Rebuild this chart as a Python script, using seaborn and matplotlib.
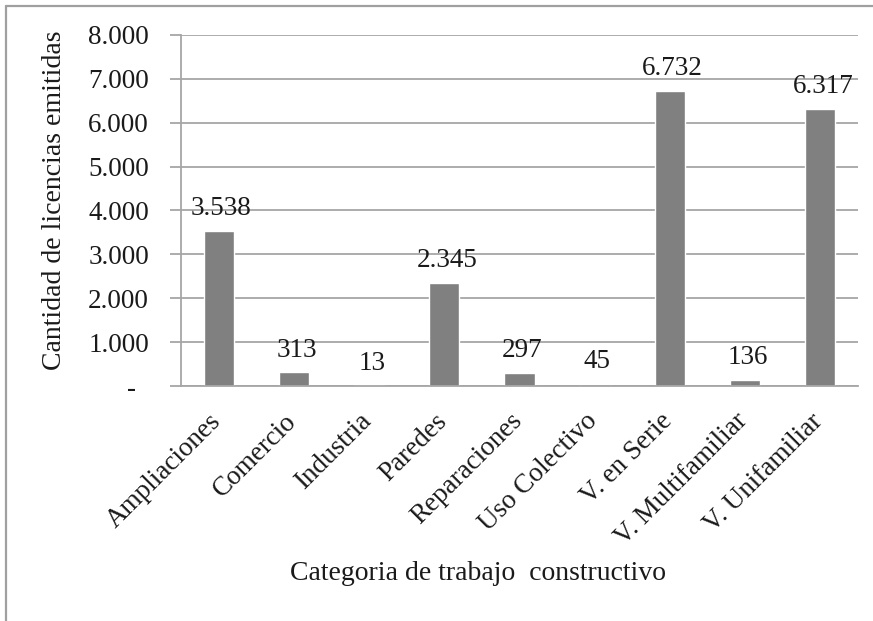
import matplotlib
matplotlib.use("Agg")
import matplotlib.pyplot as plt
from matplotlib.lines import Line2D
from matplotlib.transforms import ScaledTranslation
import seaborn as sns
import pandas as pd

categorias = ["Ampliaciones", "Comercio", "Industria", "Paredes", "Reparaciones",
              "Uso Colectivo", "V. en Serie", "V. Multifamiliar", "V. Unifamiliar"]
licencias = [3538, 313, 13, 2345, 297, 45, 6732, 136, 6317]
yticks = [0, 1000, 2000, 3000, 4000, 5000, 6000, 7000, 8000]

df = pd.DataFrame({"categoria": categorias, "licencias": licencias})

sns.set_theme(style="white")
plt.rcParams["font.family"] = ["Liberation Serif", "DejaVu Serif"]

W, H = 873, 621
fig = plt.figure(figsize=(W / 100, H / 100), dpi=100)
fig.patch.set_facecolor("white")

def fx(px):
    return px / W

def fy(py):
    return 1 - py / H

ax = fig.add_axes([fx(181), fy(386), fx(858) - fx(181), fy(35) - fy(386)])
sns.barplot(data=df, x="categoria", y="licencias", color="#808080",
            width=0.4, saturation=1, ax=ax)

grid_c = "#a6a6a6"
txt_c = "#1a1a1a"
ax.set_ylim(0, 8000)
ax.set_xlim(-0.5, len(categorias) - 0.5)
ax.set_yticks(yticks)
ax.set_yticklabels(["-  "] + [f"{v:,}".replace(",", ".") for v in yticks[1:]])
ax.yaxis.grid(True, color=grid_c, linewidth=1.3)
ax.xaxis.grid(False)
ax.set_axisbelow(True)
for side in ("top", "right"):
    ax.spines[side].set_visible(False)
for side in ("left", "bottom"):
    ax.spines[side].set_color(grid_c)
    ax.spines[side].set_linewidth(1.3)

fs = 19.5
ax.tick_params(axis="y", which="major", length=8, width=1.3, color=grid_c,
               direction="out", pad=15, labelsize=fs, labelcolor=txt_c, left=True)
ax.tick_params(axis="x", length=0, pad=12, labelsize=fs, labelcolor=txt_c)
shift = ScaledTranslation(-10 / 100, -6 / 100, fig.dpi_scale_trans)
for lab in ax.get_xticklabels():
    lab.set_rotation(45)
    lab.set_ha("right")
    lab.set_va("top")
    lab.set_rotation_mode("anchor")
    lab.set_transform(lab.get_transform() + shift)

ax.set_xlabel("")
ax.set_ylabel("")

for i, v in enumerate(licencias):
    ax.annotate(f"{v:,}".replace(",", "."), xy=(i, v), xytext=(2, 7),
                textcoords="offset points", ha="center", va="bottom",
                fontsize=fs, color=txt_c)

fig.text(fx(478), fy(573), "Categoria de trabajo  constructivo", ha="center",
         va="center", fontsize=20, color=txt_c)
fig.text(fx(55), fy(200), "Cantidad de licencias emitidas", ha="center",
         va="center", rotation=90, fontsize=20, color=txt_c)

# outer frame (left and top edges)
fig.add_artist(Line2D([fx(6), fx(6)], [fy(6), 0], transform=fig.transFigure,
                      color="#a0a0a0", linewidth=1.6))
fig.add_artist(Line2D([fx(6), 1], [fy(6), fy(6)], transform=fig.transFigure,
                      color="#a0a0a0", linewidth=1.6))

fig.savefig("out.png", dpi=100, facecolor="white")
